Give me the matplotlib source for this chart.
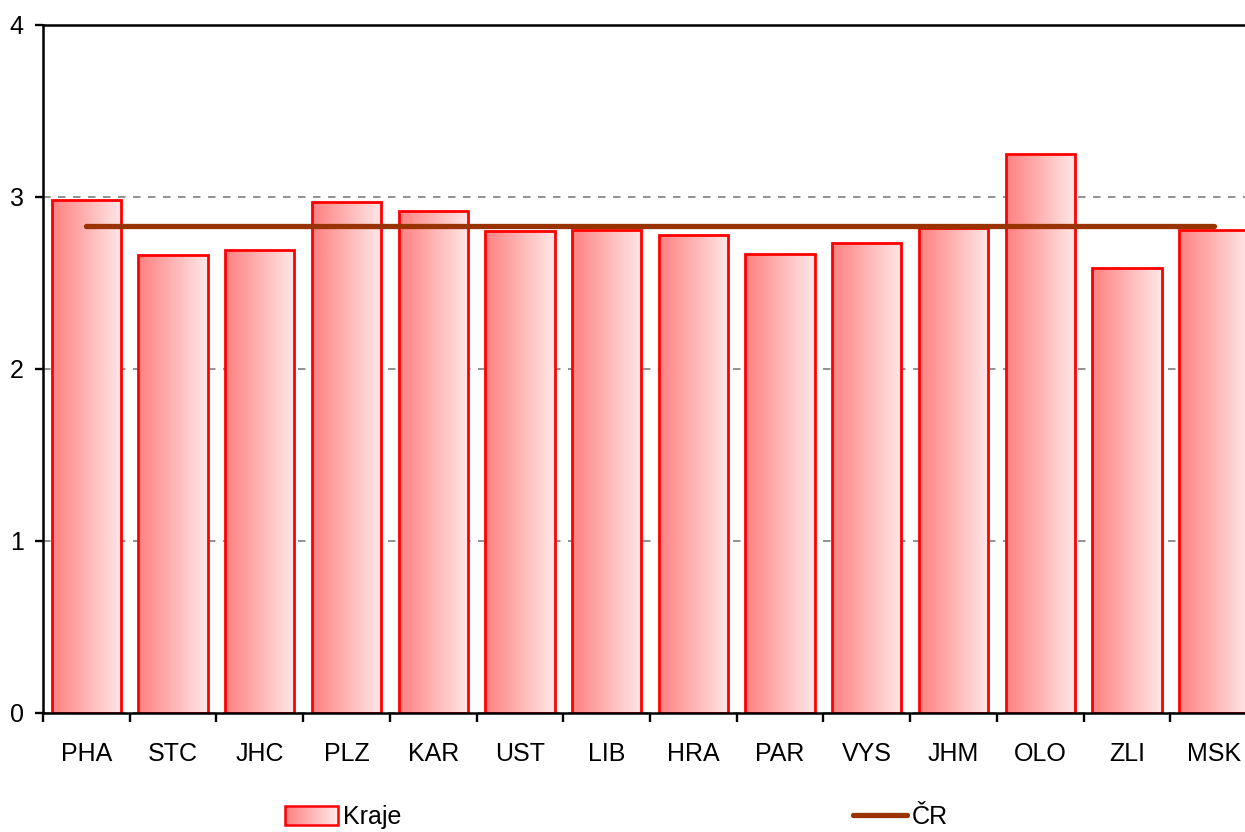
#!/usr/bin/env python3
"""Bar chart of regions (Kraje) vs. national average (ČR)"""

import numpy as np
import matplotlib
matplotlib.use("Agg")
import matplotlib.pyplot as plt
from matplotlib.colors import LinearSegmentedColormap
from matplotlib.legend_handler import HandlerPatch
from matplotlib.patches import Rectangle
from matplotlib.lines import Line2D

plt.rcParams['font.family'] = ['Liberation Sans', 'DejaVu Sans']

# data
regions = ['PHA', 'STC', 'JHC', 'PLZ', 'KAR', 'UST', 'LIB',
           'HRA', 'PAR', 'VYS', 'JHM', 'OLO', 'ZLI', 'MSK']
kraje = [2.98, 2.66, 2.69, 2.97, 2.92, 2.80, 2.81,
         2.78, 2.67, 2.73, 2.82, 3.25, 2.59, 2.81]
cr_value = 2.83
y_ticks = [0, 1, 2, 3, 4]

grad = LinearSegmentedColormap.from_list('pinkgrad', ['#ff8080', '#ffe8e8'])
grad_img = np.linspace(0, 1, 256).reshape(1, -1)


class GradientHandler(HandlerPatch):
    """Legend handle drawn as a horizontal gradient box"""
    def create_artists(self, legend, orig_handle, xdescent, ydescent,
                       width, height, fontsize, trans):
        n = 40
        arts = []
        for i in range(n):
            r = Rectangle((-xdescent + width * i / n, -ydescent), width / n + 0.2, height,
                          facecolor=grad(i / (n - 1)), edgecolor='none', transform=trans)
            arts.append(r)
        box = Rectangle((-xdescent, -ydescent), width, height, facecolor='none',
                        edgecolor='red', linewidth=1.8, transform=trans)
        arts.append(box)
        return arts


def main():
    fig = plt.figure(figsize=(12.45, 8.32), dpi=100)
    ax = fig.add_axes([43 / 1245, 119 / 832, 1214 / 1245, 688 / 832])

    x = np.arange(len(regions))
    bars = ax.bar(x, kraje, width=0.8, facecolor='none', edgecolor='red',
                  linewidth=2.0, zorder=3)

    # gradient fill clipped to each bar
    for b in bars:
        x0, w, h = b.get_x(), b.get_width(), b.get_height()
        im = ax.imshow(grad_img, cmap=grad, aspect='auto', extent=(x0, x0 + w, 0, h),
                       zorder=2, interpolation='bilinear')
        im.set_clip_path(b)

    ax.plot(x, [cr_value] * len(x), color='#993300', linewidth=3.8,
            solid_capstyle='round', zorder=4)

    ax.set_xlim(-0.5, len(regions) - 0.5)
    ax.set_ylim(0, 4)
    ax.set_yticks(y_ticks)
    ax.set_xticks(x)
    ax.set_xticklabels(regions)
    ax.set_xticks(np.arange(len(regions) + 1) - 0.5, minor=True)

    ax.tick_params(axis='x', which='major', length=0, pad=21, labelsize=18)
    ax.tick_params(axis='x', which='minor', length=6.5, width=1.7, direction='out')
    ax.tick_params(axis='y', length=6, width=1.7, pad=8, labelsize=18)

    for side in ['left', 'bottom', 'top']:
        ax.spines[side].set_linewidth(1.8)
        ax.spines[side].set_zorder(5)
    ax.spines['right'].set_visible(False)

    ax.yaxis.grid(True, color='#7f7f7f', linestyle=(0, (4.5, 4.5)), linewidth=1.2)
    ax.set_axisbelow(True)

    # legend below plot
    handles = [Rectangle((0, 0), 1, 1), Line2D([], [], color='#993300', linewidth=3.8,
                                                solid_capstyle='round')]
    fig.legend(handles, ['Kraje', 'ČR'], loc='center', bbox_to_anchor=(0.495, 0.018),
               ncol=2, frameon=False, fontsize=18, handlelength=2.15, handleheight=0.8,
               handletextpad=0.2, columnspacing=18.05,
               handler_map={Rectangle: GradientHandler()})

    fig.savefig('out.png', dpi=100)
    plt.close(fig)


if __name__ == "__main__":
    main()
